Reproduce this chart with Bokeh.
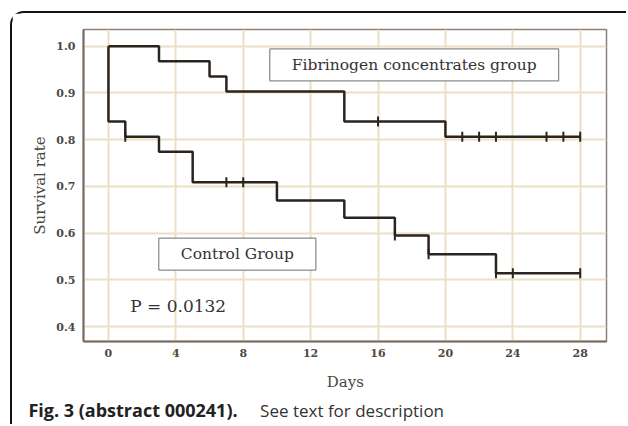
import numpy as np
from bokeh.plotting import figure
from bokeh.models import Range1d, FixedTicker, PrintfTickFormatter, Label
from bokeh.embed import file_html
from bokeh.resources import INLINE

# ---- data ----
x_ticks = [0, 4, 8, 12, 16, 20, 24, 28]
y_ticks = [0.4, 0.5, 0.6, 0.7, 0.8, 0.9, 1.0]

fib_days = [0, 3, 6, 7, 14, 20, 28]
fib_surv = [1.0, 0.968, 0.935, 0.903, 0.839, 0.806, 0.806]
fib_cens_days = [16, 21, 22, 23, 26, 27, 28]
fib_cens_surv = [0.839, 0.806, 0.806, 0.806, 0.806, 0.806, 0.806]

ctl_days = [0, 0, 1, 3, 5, 10, 14, 17, 19, 23, 28]
ctl_surv = [1.0, 0.839, 0.806, 0.774, 0.709, 0.670, 0.633, 0.595, 0.555, 0.514, 0.514]
ctl_cens_days = [1, 7, 8, 17, 19, 23, 24, 28]
ctl_cens_surv = [0.806, 0.709, 0.709, 0.595, 0.555, 0.514, 0.514, 0.514]

SERIF = "DejaVu Serif"
LINE = "#2b231d"

p = figure(width=616, height=413, output_backend="svg", toolbar_location=None,
           x_range=Range1d(-1.48, 29.56), y_range=Range1d(0.368, 1.0358),
           min_border_left=71, min_border_right=22, min_border_top=16, min_border_bottom=85)
p.styles = {"margin-left": "10px", "margin-top": "11px",
            "border-left": "2px solid #111", "border-top": "2px solid #111",
            "border-top-left-radius": "14px"}
p.background_fill_color = "white"
p.border_fill_color = "white"
p.outline_line_color = "#8e8076"
p.outline_line_width = 1.5

p.xaxis.ticker = FixedTicker(ticks=x_ticks)
p.yaxis.ticker = FixedTicker(ticks=y_ticks)
p.yaxis.formatter = PrintfTickFormatter(format="%.1f")
for ax in (p.xaxis[0], p.yaxis[0]):
    ax.axis_line_color = "#7a6b60"
    ax.axis_line_width = 2
    ax.major_tick_line_color = None
    ax.minor_tick_line_color = None
    ax.major_label_text_font = SERIF
    ax.major_label_text_font_style = "bold"
    ax.major_label_text_font_size = "11px"
    ax.major_label_text_color = "#504840"
    ax.axis_label_text_font = SERIF
    ax.axis_label_text_font_style = "normal"
    ax.axis_label_text_color = "#4a4440"
p.xaxis.major_label_standoff = 1
p.yaxis.major_label_standoff = 2
p.yaxis.axis_label = "Survival rate"
p.yaxis.axis_label_text_font_size = "15px"
p.yaxis.axis_label_standoff = 4

p.grid.grid_line_color = "#ecdfc3"
p.grid.grid_line_width = 2

p.step(fib_days, fib_surv, mode="after", line_color=LINE, line_width=2.5)
p.step(ctl_days, ctl_surv, mode="after", line_color=LINE, line_width=2.5)
p.scatter(fib_cens_days, fib_cens_surv, marker="dash", angle=np.pi / 2, size=10,
          line_color=LINE, line_width=2)
p.scatter(ctl_cens_days, ctl_cens_surv, marker="dash", angle=np.pi / 2, size=10,
          line_color=LINE, line_width=2)

p.add_layout(Label(x=18.15, y=0.960, text="Fibrinogen concentrates group",
                   text_align="center", text_baseline="middle", text_font=SERIF,
                   text_font_size="15.5px", text_color="#333333",
                   background_fill_color="white", border_line_color="#6e6e6e",
                   border_line_width=1, padding=(22, 7)))
p.add_layout(Label(x=7.65, y=0.555, text="Control Group",
                   text_align="center", text_baseline="middle", text_font=SERIF,
                   text_font_size="15.5px", text_color="#333333",
                   background_fill_color="white", border_line_color="#6e6e6e",
                   border_line_width=1, padding=(22, 7)))
p.add_layout(Label(x=1.29, y=0.4444, text="P = 0.0132", text_align="left",
                   text_baseline="middle", text_font=SERIF, text_font_size="17px",
                   text_color="#333333"))

# x-axis title and caption, held in the bottom side panels (placed in data units)
p.add_layout(Label(x=14.06, y=0.2805, text="Days",
                   text_align="center", text_baseline="alphabetic", text_font=SERIF,
                   text_font_size="15px", text_color="#4a4440"),
             "below")
p.add_layout(Label(x=-4.75, y=0.2205, text="Fig. 3 (abstract 000241).",
                   text_align="left", text_baseline="alphabetic", text_font="Open Sans",
                   text_font_style="bold", text_font_size="18px", text_color="#222222"),
             "below")
p.add_layout(Label(x=9.0, y=0.2205, text="See text for description",
                   text_align="left", text_baseline="alphabetic", text_font="Open Sans",
                   text_font_size="17px", text_color="#333333"),
             "below")

open("out.html", "w").write(file_html(p, INLINE))
